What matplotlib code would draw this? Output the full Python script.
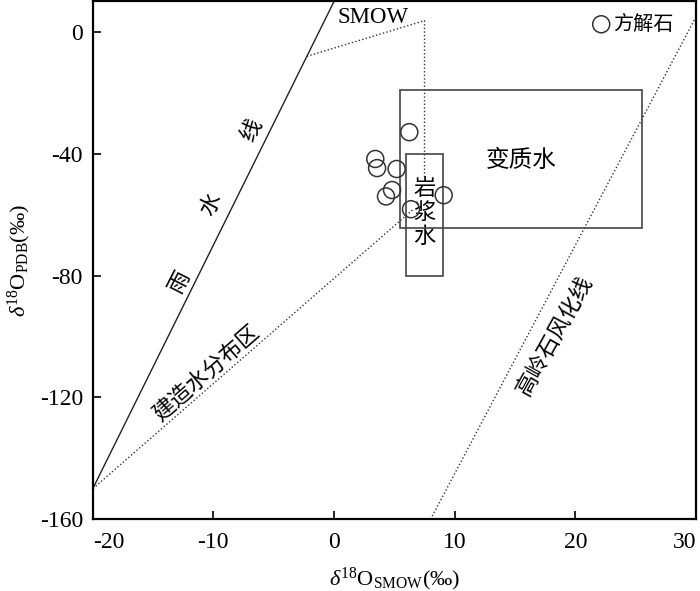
import matplotlib
matplotlib.use("Agg")
import matplotlib.pyplot as plt
from matplotlib.patches import Rectangle

plt.rcParams["font.family"] = ["Liberation Serif", "Noto Sans CJK SC"]
plt.rcParams["axes.unicode_minus"] = False
plt.rcParams["mathtext.fontset"] = "custom"
plt.rcParams["mathtext.rm"] = "Liberation Serif"
plt.rcParams["mathtext.it"] = "Liberation Serif:italic"

CJK = ["Noto Sans CJK SC", "DejaVu Sans"]

# calcite samples
calcite_d18o = [6.24, 3.42, 3.57, 5.19, 4.81, 4.31, 9.09, 6.38]
calcite_dd = [-32.9, -41.7, -44.7, -45.0, -51.9, -54.0, -53.6, -58.2]

# meteoric water line and kaolinite weathering line
mwl_x = [-20, 0]
mwl_y = [-150, 10]
kaol_x = [8, 30]
kaol_y = [-160, 5]

# formation water outline (dotted)
form_x = [-2.25, 7.5, 7.5, -20]
form_y = [-8, 3.7, -55, -150]

# fields: (x0, x1, y0, y1)
meta_box = (5.5, 25.5, -64.5, -19)
magma_box = (6, 9, -80, -40)

xticks = [-20, -10, 0, 10, 20, 30]
yticks = [0, -40, -80, -120, -160]

fig = plt.figure(figsize=(7, 5.91), dpi=100)
ax = fig.add_axes([0.1324, 0.1213, 0.8619, 0.8762])

dot = dict(color="#333333", linestyle=(0, (1, 1.6)), linewidth=1.0)

ax.plot(mwl_x, mwl_y, color="#222222", linewidth=1.0, zorder=2)
ax.plot(kaol_x, kaol_y, zorder=1, **dot)
ax.plot(form_x, form_y, zorder=1, **dot)

for x0, x1, y0, y1 in [meta_box, magma_box]:
    ax.add_patch(Rectangle((x0, y0), x1 - x0, y1 - y0, fill=False,
                           edgecolor="#444444", linewidth=1.2, zorder=4))

ax.scatter(calcite_d18o, calcite_dd, s=150, facecolors="none",
           edgecolors="#333333", linewidths=1.1, zorder=5, label="方解石")

# labels in the plot
ax.text(3.2, 4.6, "SMOW", fontsize=16.5, ha="center", va="center")
for ch, x, y in [("雨", -12.8, -82), ("水", -10.2, -56.6), ("线", -6.8, -32)]:
    ax.text(x, y, ch, family=CJK, fontsize=16, rotation=63,
            ha="center", va="center")
ax.text(-10.6, -112, "建造水分布区", family=CJK, fontsize=16, rotation=41,
        ha="center", va="center")
ax.text(18.3, -99.5, "高岭石风化线", family=CJK, fontsize=16, rotation=61,
        ha="center", va="center")
ax.text(15.5, -42.3, "变质水", family=CJK, fontsize=17, ha="center", va="center")
ax.text(7.5, -59.3, "岩\n浆\n水", family=CJK, fontsize=16, ha="center",
        va="center", linespacing=1.05, zorder=3,
        bbox=dict(facecolor="white", edgecolor="none", pad=0.5))

leg = ax.legend(loc="upper right", bbox_to_anchor=(0.983, 1.0), frameon=False,
                handlelength=1.0, handletextpad=0.1, borderaxespad=0.4,
                borderpad=0.2, prop={"family": CJK, "size": 14.5})

ax.set_xlim(-20, 30)
ax.set_ylim(-160, 10)
ax.set_xticks(xticks)
ax.set_yticks(yticks)
ax.tick_params(direction="in", length=6, width=1.2, labelsize=17)
ax.tick_params(axis="x", pad=9)
ax.tick_params(axis="y", pad=7)
ax.get_xticklabels()[0].set_horizontalalignment("left")
ax.get_xticklabels()[-1].set_horizontalalignment("right")

for sp in ax.spines.values():
    sp.set_linewidth(1.6)

ax.set_xlabel(r"$\delta^{18}$O$_{\mathrm{SMOW}}$(‰)", fontsize=16, labelpad=9)
ax.set_ylabel(r"$\delta^{18}$O$_{\mathrm{PDB}}$(‰)", fontsize=16, labelpad=5)

fig.savefig("out.png", dpi=100)
